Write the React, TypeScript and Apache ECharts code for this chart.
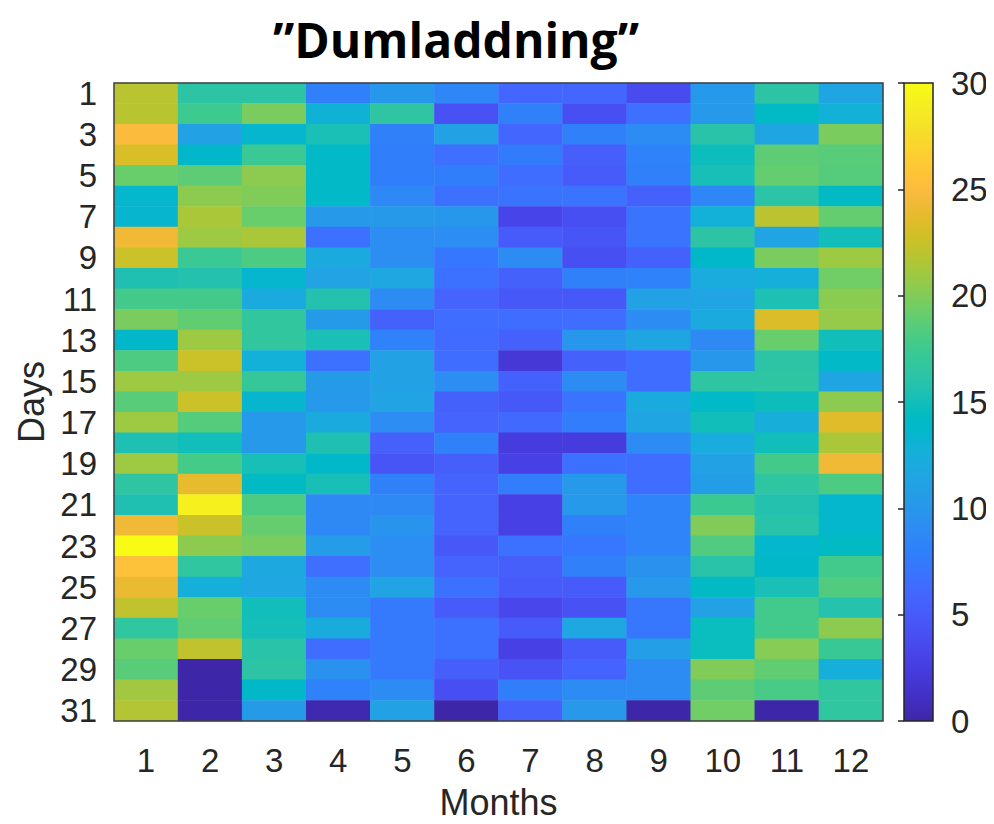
import React, { useEffect, useRef } from "react";
import * as echarts from "echarts";

const titleText = "”Dumladdning”";
const monthLabels = ["1", "2", "3", "4", "5", "6", "7", "8", "9", "10", "11", "12"];
const dayLabels = Array.from({ length: 31 }, (_, i) => String(i + 1));
const colorbarTicks = { min: 0, max: 30, interval: 5 };

// values per month (column), day 1..31 top to bottom
const month1 = [21.9, 21.9, 25, 23.2, 19.2, 13.6, 13.4, 24.3, 22.6, 15.5, 17.8, 19.8, 13.7, 18.2, 21, 18.6, 21, 15.4, 21, 16.5, 15.5, 24.3, 30, 25.5, 24, 22.2, 16.6, 19.2, 18.6, 21.1, 21.7];
const month2 = [16.3, 17.5, 11, 13.7, 18.8, 20.4, 21.4, 21, 17.3, 15.7, 17.8, 18.9, 21, 22.6, 21, 22.6, 18.5, 15, 17.9, 23.8, 29.2, 22.6, 20.4, 16.6, 12.6, 19.2, 18.9, 22.2, 0, 0, 0];
const month3 = [16.3, 19.8, 13.5, 17.3, 20.4, 20, 19.2, 21.4, 18.2, 13.5, 12, 16.7, 16.7, 12.8, 17, 13.4, 10.2, 10.2, 15.2, 14.2, 18.2, 19.1, 19.8, 11.8, 11.7, 15, 15.1, 16, 16.3, 13.9, 10.5];
const month4 = [8, 13, 15.3, 14, 14, 14, 10.3, 6.8, 12, 11.2, 15.7, 10.5, 15.3, 6.8, 10.5, 10.2, 12, 15.5, 13.8, 15.2, 8.8, 8.8, 10.6, 6.7, 9, 9, 12.2, 6.5, 9.5, 8.2, 0.3];
const month5 = [10, 16.5, 8, 7.8, 7.8, 8.7, 10.3, 9.2, 9.2, 11.7, 9, 5.5, 8.2, 11, 11, 11.2, 9.1, 5.4, 4.5, 8, 8.8, 9.8, 9.2, 9.1, 11.2, 7.4, 7.4, 7.4, 7.4, 9, 11];
const month6 = [8.5, 4.3, 11, 6.7, 7.8, 6.8, 10, 9.2, 7.2, 6.8, 5.7, 6.5, 6.3, 6.5, 9.2, 5.5, 5.7, 8, 5.3, 5.7, 5.7, 5.7, 4.8, 5.7, 6.8, 5, 6.8, 6.8, 5.3, 4, 0];
const month7 = [6, 8, 6, 7.6, 6.5, 7, 3.2, 5, 9, 5.5, 4.8, 6.5, 5.5, 2, 5.5, 4.8, 6.2, 2.3, 2.8, 7.7, 2.8, 2.8, 6.8, 5.3, 5, 3.3, 5, 2.8, 4.4, 7.8, 5.4];
const month8 = [6, 4, 8, 5.3, 5, 7, 4, 4.5, 4, 8, 4.8, 6.5, 10, 5.5, 9, 7, 7.7, 2.3, 6.8, 10.2, 10.2, 8, 7.2, 8, 5, 4.3, 11.7, 5, 5.8, 9, 10.1];
const month9 = [3.7, 6.7, 9, 8.2, 8, 5.5, 7, 7, 5.5, 8.2, 11, 9, 11.5, 6.5, 6.5, 12, 11.5, 9, 6.5, 6.5, 8.3, 8.3, 8.3, 9.6, 10.1, 7.3, 7.3, 10.8, 9, 9, 0];
const month10 = [10.2, 10.2, 16, 14.8, 15.2, 8.5, 12.8, 16.3, 13.9, 12.3, 11.3, 12, 8.8, 10, 16.4, 14, 15, 12.3, 11, 10.7, 17.4, 20, 18.3, 16, 14.2, 11, 14.7, 14.7, 20, 18.8, 19.5];
const month11 = [16.3, 14.2, 11.5, 18.8, 19, 16.2, 22, 11.3, 19.8, 12.6, 15.4, 23.3, 19.2, 16.3, 16.4, 14.8, 12.5, 15, 17.8, 16.4, 15.7, 16, 13.6, 13.9, 15.3, 17.7, 17.7, 20.2, 18.9, 18, 0];
const month12 = [11.6, 12.8, 19.8, 18.6, 18.5, 14.2, 19, 15, 21, 19.5, 20.3, 20.7, 15, 14, 11.5, 20.4, 23.5, 21.4, 24.3, 18.2, 13.6, 13.6, 14.2, 17.7, 18.3, 15.8, 20.4, 17.2, 12.6, 16.6, 16.6];

const months = [month1, month2, month3, month4, month5, month6, month7, month8, month9, month10, month11, month12];

// MATLAB parula colormap (64 entries)
const parula = [
  [0.2422, 0.1504, 0.6603], [0.2504, 0.165, 0.7076], [0.2578, 0.1818, 0.7511], [0.2647, 0.1978, 0.7952],
  [0.2706, 0.2147, 0.8364], [0.2751, 0.2342, 0.871], [0.2783, 0.2559, 0.8991], [0.2803, 0.2782, 0.9221],
  [0.2813, 0.3006, 0.9414], [0.281, 0.3228, 0.9579], [0.2795, 0.3447, 0.9717], [0.276, 0.3667, 0.9829],
  [0.2699, 0.3892, 0.9906], [0.2602, 0.4123, 0.9952], [0.244, 0.4358, 0.9988], [0.2206, 0.4603, 0.9973],
  [0.1963, 0.4847, 0.9892], [0.1834, 0.5074, 0.9798], [0.1786, 0.5289, 0.9682], [0.1764, 0.5499, 0.952],
  [0.1687, 0.5703, 0.9359], [0.154, 0.5902, 0.9218], [0.146, 0.6091, 0.9079], [0.138, 0.6276, 0.8973],
  [0.1248, 0.6459, 0.8883], [0.1113, 0.6635, 0.8763], [0.0952, 0.6798, 0.8598], [0.0689, 0.6948, 0.8394],
  [0.0297, 0.7082, 0.8163], [0.0036, 0.7203, 0.7917], [0.0067, 0.7312, 0.766], [0.0433, 0.7411, 0.7394],
  [0.0964, 0.75, 0.712], [0.1408, 0.7584, 0.6842], [0.1717, 0.767, 0.6554], [0.1938, 0.7758, 0.6251],
  [0.2161, 0.7843, 0.5923], [0.247, 0.7918, 0.5567], [0.2906, 0.7973, 0.5188], [0.3406, 0.8008, 0.4789],
  [0.3909, 0.8029, 0.4354], [0.4456, 0.8024, 0.3909], [0.5044, 0.7993, 0.348], [0.5616, 0.7942, 0.3045],
  [0.6174, 0.7876, 0.2612], [0.672, 0.7793, 0.2227], [0.7242, 0.7698, 0.191], [0.7738, 0.7598, 0.1646],
  [0.8203, 0.7498, 0.1535], [0.8634, 0.7406, 0.1596], [0.9035, 0.733, 0.1774], [0.9393, 0.7288, 0.21],
  [0.9728, 0.7298, 0.2394], [0.9956, 0.7434, 0.2371], [0.997, 0.7659, 0.2199], [0.9952, 0.7893, 0.2028],
  [0.9892, 0.8136, 0.1885], [0.9786, 0.8386, 0.1766], [0.9676, 0.8639, 0.1643], [0.961, 0.889, 0.1537],
  [0.9597, 0.9135, 0.1423], [0.9628, 0.9373, 0.1265], [0.9691, 0.9606, 0.1064], [0.9769, 0.9839, 0.0805],
];
const parulaColors = parula.map(
  ([r, g, b]) => `rgb(${Math.round(r * 255)},${Math.round(g * 255)},${Math.round(b * 255)})`
);

const textColor = "#262626";
const axisFont = "Liberation Sans, Arial, sans-serif";

export default function App() {
  const ref = useRef<HTMLDivElement>(null);

  useEffect(() => {
    if (!ref.current) return;
    const chart = echarts.init(ref.current, undefined, { renderer: "svg" });

    const data: number[][] = [];
    months.forEach((col, mi) => {
      col.forEach((v, di) => data.push([mi, di, v]));
    });

    const gradient = {
      type: "linear",
      x: 0,
      y: 1,
      x2: 0,
      y2: 0,
      colorStops: parulaColors.map((c, i) => ({ offset: i / (parulaColors.length - 1), color: c })),
    };

    chart.setOption({
      animation: false,
      backgroundColor: "#ffffff",
      graphic: [
        {
          type: "text",
          x: 456,
          y: 39,
          style: {
            text: titleText,
            font: "bold 48px 'Open Sans', sans-serif",
            fill: "#000000",
            textAlign: "center",
            textVerticalAlign: "middle",
            verticalAlign: "middle",
          },
        },
      ],
      grid: [
        {
          left: 114,
          top: 83,
          width: 769,
          height: 638,
          show: true,
          z: 10,
          borderColor: "#404040",
          borderWidth: 1.5,
          backgroundColor: "transparent",
          outerBoundsMode: "none",
          containLabel: false,
        },
        {
          left: 904,
          top: 83,
          width: 29,
          height: 638,
          show: true,
          borderColor: "#262626",
          borderWidth: 1.5,
          backgroundColor: gradient,
          outerBoundsMode: "none",
          containLabel: false,
        },
      ],
      xAxis: [
        {
          type: "category",
          gridIndex: 0,
          data: monthLabels,
          name: "Months",
          nameLocation: "middle",
          nameGap: 63,
          nameTextStyle: { fontSize: 36, color: textColor, fontFamily: axisFont },
          axisLine: { show: false },
          axisTick: { show: false },
          axisLabel: { fontSize: 33, color: textColor, fontFamily: axisFont, margin: 23 },
          splitLine: { show: false },
        },
        {
          type: "value",
          gridIndex: 1,
          show: false,
          min: 0,
          max: 1,
        },
      ],
      yAxis: [
        {
          type: "category",
          gridIndex: 0,
          data: dayLabels,
          inverse: true,
          name: "Days",
          nameLocation: "middle",
          nameGap: 64,
          nameTextStyle: { fontSize: 36, color: textColor, fontFamily: axisFont },
          axisLine: { show: false },
          axisTick: { show: false },
          axisLabel: { fontSize: 33, color: textColor, fontFamily: axisFont, margin: 17, interval: 1 },
          splitLine: { show: false },
        },
        {
          type: "value",
          gridIndex: 1,
          position: "right",
          min: colorbarTicks.min,
          max: colorbarTicks.max,
          interval: colorbarTicks.interval,
          axisLine: { show: false },
          axisTick: { show: true, inside: true, length: 6, lineStyle: { color: textColor, width: 1.5 } },
          axisLabel: { fontSize: 33, color: textColor, fontFamily: axisFont, margin: 18 },
          splitLine: { show: false },
        },
      ],
      visualMap: {
        show: false,
        type: "continuous",
        min: colorbarTicks.min,
        max: colorbarTicks.max,
        seriesIndex: 0,
        inRange: { color: parulaColors },
      },
      series: [
        {
          type: "heatmap",
          xAxisIndex: 0,
          yAxisIndex: 0,
          data,
          itemStyle: { borderWidth: 0 },
          emphasis: { disabled: true },
        },
      ],
    });

    return () => chart.dispose();
  }, []);

  return <div ref={ref} style={{ width: 994, height: 824, margin: -8 }} />;
}
